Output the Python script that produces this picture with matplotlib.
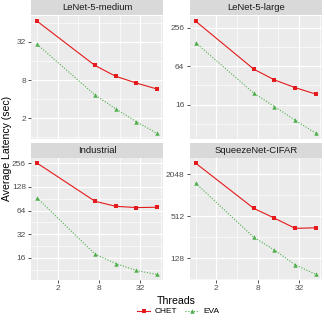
import numpy as np
import matplotlib.pyplot as plt
from matplotlib.ticker import FixedLocator, NullFormatter
from matplotlib.lines import Line2D

plt.rcParams['font.family'] = ['Liberation Sans', 'DejaVu Sans']

# threads used for each run
threads = [1, 7, 14, 28, 56]
x_ticks = [2, 8, 32]

titles = ['LeNet-5-medium', 'LeNet-5-large', 'Industrial', 'SqueezeNet-CIFAR']

# average latency (sec)
chet_lenet_medium = [68, 13.6, 9.2, 7.2, 5.8]
eva_lenet_medium = [29.5, 4.66, 2.83, 1.77, 1.16]

chet_lenet_large = [326, 57.6, 39, 29.5, 23.3]
eva_lenet_large = [150, 24.2, 14.9, 9.1, 5.66]

chet_industrial = [258, 84, 72.5, 69.8, 70.5]
eva_industrial = [93, 17.8, 13.5, 11.0, 9.8]

chet_squeezenet = [2960, 664, 480, 343, 350]
eva_squeezenet = [1530, 256, 168, 103, 75]

y_ticks_medium = [2, 8, 32]
y_ticks_large = [16, 64, 256]
y_ticks_industrial = [16, 32, 64, 128, 256]
y_ticks_squeezenet = [128, 512, 2048]

CHET_COLOR = '#E41A1C'
EVA_COLOR = '#4DAF4A'
W = 324.0


def rect(x0, y0, x1, y1):
    return [x0 / W, 1 - y1 / W, (x1 - x0) / W, (y1 - y0) / W]


def log_limits(values):
    lo = np.log2(min(values))
    hi = np.log2(max(values))
    pad = (hi - lo) * 0.05
    return 2 ** (lo - pad), 2 ** (hi + pad)


def minor_breaks(major):
    b = np.log2(major)
    step = b[1] - b[0]
    b = np.concatenate([[b[0] - step], b, [b[-1] + step]])
    mids = [(b[i] + b[i + 1]) / 2 for i in range(len(b) - 1)]
    return [2 ** m for m in mids]


def draw_panel(fig, box, strip, title, chet, eva, y_ticks, show_x=True):
    sax = fig.add_axes(strip)
    sax.set_facecolor('#D9D9D9')
    sax.set_xticks([])
    sax.set_yticks([])
    for s in sax.spines.values():
        s.set_visible(False)
    sax.text(0.5, 0.47, title, ha='center', va='center', fontsize=6.8, color='#1A1A1A',
             transform=sax.transAxes)

    ax = fig.add_axes(box)
    ax.set_facecolor('#EBEBEB')
    for s in ax.spines.values():
        s.set_visible(False)
    ax.set_xscale('log', base=2)
    ax.set_yscale('log', base=2)
    ax.set_xlim(*log_limits(threads))
    ax.set_ylim(*log_limits(chet + eva))

    ax.xaxis.set_major_locator(FixedLocator(x_ticks))
    ax.xaxis.set_minor_locator(FixedLocator(minor_breaks(x_ticks)))
    ax.yaxis.set_major_locator(FixedLocator(y_ticks))
    ax.yaxis.set_minor_locator(FixedLocator(minor_breaks(y_ticks)))
    ax.set_xticklabels([str(t) for t in x_ticks])
    ax.set_yticklabels([str(t) for t in y_ticks])
    ax.xaxis.set_minor_formatter(NullFormatter())
    ax.yaxis.set_minor_formatter(NullFormatter())

    ax.grid(which='major', color='white', linewidth=0.9)
    ax.grid(which='minor', color='white', linewidth=0.45)
    ax.set_axisbelow(True)
    ax.tick_params(which='major', length=2.2, width=0.6, color='#333333',
                   labelsize=6, labelcolor='#4D4D4D', pad=1.5)
    ax.tick_params(which='minor', length=0)
    if not show_x:
        ax.tick_params(axis='x', which='both', length=0, labelbottom=False)

    ax.plot(threads, chet, color=CHET_COLOR, linewidth=0.8, marker='s', markersize=2.6,
            markeredgewidth=0)
    ax.plot(threads, eva, color=EVA_COLOR, linewidth=0.8, linestyle=(0, (1, 1.5)),
            marker='^', markersize=3.2, markeredgewidth=0)
    return ax


fig = plt.figure(figsize=(3.24, 3.24), dpi=100)

draw_panel(fig, rect(31, 15.5, 163, 139), rect(31, 0, 163, 15), titles[0],
           chet_lenet_medium, eva_lenet_medium, y_ticks_medium, show_x=False)
draw_panel(fig, rect(189.5, 15.5, 322, 139), rect(189.5, 0, 322, 15), titles[1],
           chet_lenet_large, eva_lenet_large, y_ticks_large, show_x=False)
draw_panel(fig, rect(31, 157.5, 163, 280), rect(31, 143, 163, 157.5), titles[2],
           chet_industrial, eva_industrial, y_ticks_industrial)
draw_panel(fig, rect(189.5, 157.5, 322, 280), rect(189.5, 143, 322, 157.5), titles[3],
           chet_squeezenet, eva_squeezenet, y_ticks_squeezenet)

fig.text(7 / W, 1 - 148 / W, 'Average Latency (sec)', rotation=90, ha='center', va='center',
         fontsize=7.6, color='black')
fig.text(176.5 / W, 1 - 301 / W, 'Threads', ha='center', va='center', fontsize=7.6,
         color='black')

handles = [
    Line2D([], [], color=CHET_COLOR, linewidth=0.8, marker='s', markersize=2.6,
           markeredgewidth=0),
    Line2D([], [], color=EVA_COLOR, linewidth=0.8, linestyle=(0, (1, 1.5)), marker='^',
           markersize=3.2, markeredgewidth=0),
]
fig.legend(handles, ['CHET', 'EVA'], loc='center', bbox_to_anchor=(178 / W, 1 - 311.5 / W),
           ncol=2, frameon=False, fontsize=6, handlelength=1.6, handletextpad=0.5,
           columnspacing=1.0, borderaxespad=0)

fig.savefig('out.png', dpi=100)
